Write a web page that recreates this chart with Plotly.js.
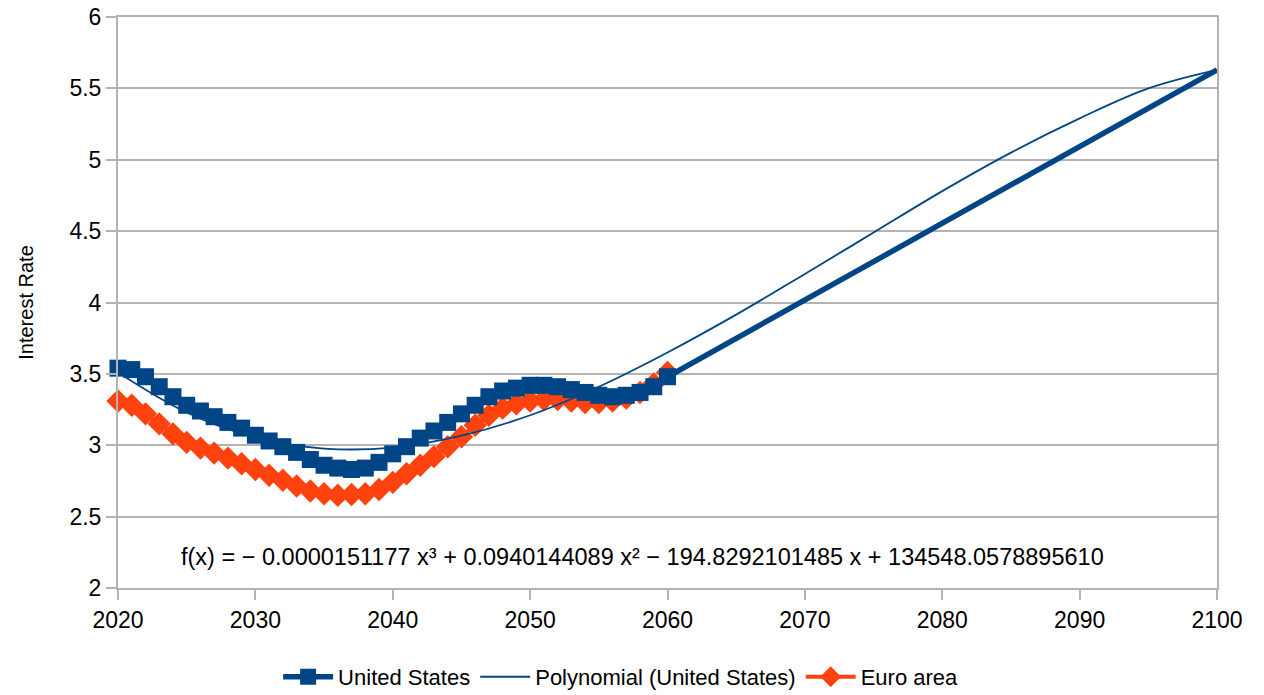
<!DOCTYPE html>
<html>
<head>
<meta charset="utf-8">
<script src="https://cdn.plot.ly/plotly-3.0.1.min.js"></script>
<style>html,body{margin:0;padding:0;background:#fff;}#chart{width:1264px;height:695px;}</style>
</head>
<body>
<div id="chart"></div>
<script>
// Years for the annual series
const years = [2020,2021,2022,2023,2024,2025,2026,2027,2028,2029,2030,2031,2032,2033,2034,2035,2036,2037,2038,2039,2040,2041,2042,2043,2044,2045,2046,2047,2048,2049,2050,2051,2052,2053,2054,2055,2056,2057,2058,2059,2060];
// United States (annual to 2060, plus the 2100 end point)
const usYears = years.concat([2100]);
const usValues = [3.54,3.53,3.48,3.41,3.34,3.28,3.24,3.20,3.16,3.12,3.07,3.03,2.99,2.95,2.90,2.86,2.84,2.83,2.84,2.88,2.94,2.99,3.05,3.10,3.16,3.22,3.28,3.34,3.38,3.40,3.42,3.42,3.41,3.39,3.37,3.35,3.34,3.35,3.37,3.41,3.48,5.63];
// Euro area
const euroValues = [3.31,3.28,3.22,3.15,3.08,3.02,2.98,2.945,2.91,2.87,2.83,2.79,2.755,2.715,2.68,2.66,2.65,2.655,2.66,2.69,2.74,2.80,2.86,2.92,2.99,3.06,3.14,3.21,3.26,3.29,3.31,3.32,3.32,3.31,3.30,3.30,3.31,3.33,3.37,3.43,3.51];
// Polynomial trend line (United States)
const trendYears = [2020,2025,2030,2035,2040,2045,2050,2055,2060,2065,2070,2075,2080,2085,2090,2095,2100];
const trendValues = [3.51,3.23,3.055,2.977,2.984,3.067,3.21,3.41,3.65,3.915,4.20,4.49,4.78,5.05,5.29,5.50,5.63];
// Axis ticks
const xTicks = [2020,2030,2040,2050,2060,2070,2080,2090,2100];
const yTicks = [2,2.5,3,3.5,4,4.5,5,5.5,6];
const equationText = "f(x) = − 0.0000151177 x³ + 0.0940144089 x² − 194.8292101485 x + 134548.0578895610";

const BLUE = '#004586';
const ORANGE = '#ff420e';
const FONT = 'Liberation Sans, Arial, sans-serif';
const FS = 23;

const usSizes = usYears.map(y => y > 2060 ? 0 : 17);

const traces = [
  {
    x: years, y: euroValues, name: 'Euro area', type: 'scatter', mode: 'lines+markers',
    legendrank: 3, cliponaxis: false,
    line: {color: ORANGE, width: 4},
    marker: {symbol: 'diamond', color: ORANGE, size: 18, opacity: 1, line: {width: 0}}
  },
  {
    x: usYears, y: usValues, name: 'United States', type: 'scatter', mode: 'lines+markers',
    legendrank: 1, cliponaxis: false,
    line: {color: BLUE, width: 5.5},
    marker: {symbol: 'square', color: BLUE, size: usSizes, opacity: 1, line: {width: 0}}
  },
  {
    x: trendYears, y: trendValues, name: 'Polynomial (United States)', type: 'scatter', mode: 'lines',
    legendrank: 2,
    line: {color: BLUE, width: 1.8, shape: 'spline'}
  }
];

const layout = {
  width: 1264, height: 695,
  margin: {l: 118, r: 47, t: 17, b: 107},
  paper_bgcolor: '#fff', plot_bgcolor: '#fff',
  font: {family: FONT, size: FS, color: '#000'},
  showlegend: true,
  legend: {orientation: 'h', xref: 'container', yref: 'container', x: 0.491, xanchor: 'center', y: 0.026, yanchor: 'middle',
           font: {family: FONT, size: 22, color: '#000'}, itemwidth: 50, traceorder: 'normal'},
  xaxis: {
    range: [2020, 2100], tickvals: xTicks, ticktext: xTicks.map(String),
    showgrid: false, zeroline: false,
    showline: true, linecolor: '#b3b3b3', linewidth: 2, mirror: true,
    ticks: 'outside', ticklen: 10, tickcolor: '#b3b3b3', tickwidth: 2,
    tickfont: {family: FONT, size: FS, color: '#000'}
  },
  yaxis: {
    range: [2, 6], tickvals: yTicks, ticktext: yTicks.map(String),
    showgrid: true, gridcolor: '#b3b3b3', gridwidth: 2, zeroline: false,
    showline: true, linecolor: '#b3b3b3', linewidth: 2, mirror: true,
    ticks: 'outside', ticklen: 10, tickcolor: '#b3b3b3', tickwidth: 2,
    tickfont: {family: FONT, size: FS, color: '#000'},
    title: {text: 'Interest Rate', font: {family: FONT, size: 20, color: '#000'}, standoff: 30}
  },
  annotations: [{
    text: equationText, xref: 'paper', yref: 'paper', x: 0.477, y: 0.054,
    xanchor: 'center', yanchor: 'middle', showarrow: false,
    font: {family: FONT, size: 23.5, color: '#000'}
  }]
};

Plotly.newPlot('chart', traces, layout, {displayModeBar: false, staticPlot: true});
</script>
</body>
</html>
